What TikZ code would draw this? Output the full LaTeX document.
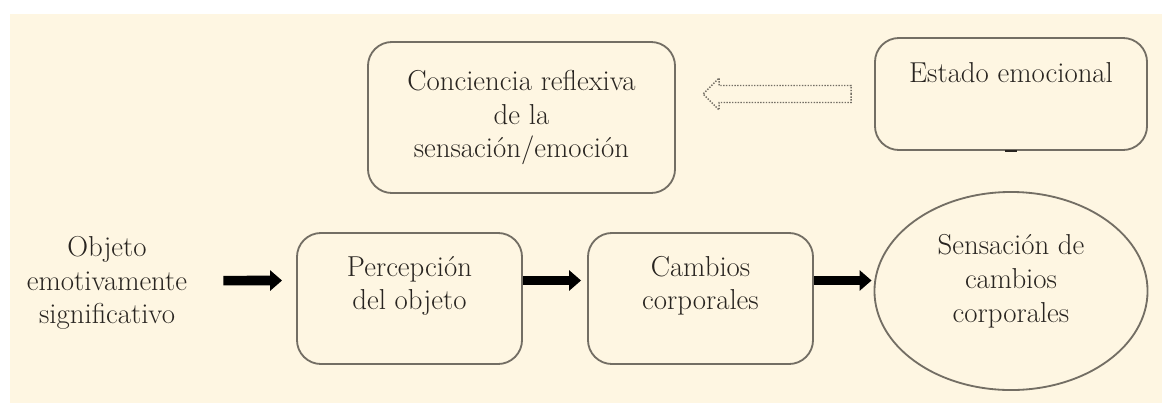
\documentclass[tikz,border=0pt]{standalone}
\usepackage{tikz}
\usetikzlibrary{arrows.meta, shapes.geometric}
\definecolor{bgcream}{RGB}{254,246,226}
\definecolor{boxgray}{RGB}{115,110,100}
\definecolor{txtgray}{RGB}{40,36,32}

\begin{document}
\begin{tikzpicture}[x=0.025cm, y=-0.025cm,
    font=\fontsize{20.5}{24}\selectfont, text=txtgray,
    stagebox/.style={draw=boxgray, line width=1.3pt, rounded corners=0.6cm, align=center, inner sep=0pt},
    fatarrow/.style={line width=0.24cm, -{Triangle[length=0.3cm, width=0.5cm]}},
    hollowarrow/.style={draw=boxgray, line width=1pt, densely dotted}]
    \useasboundingbox (0, 0) rectangle (1162, 403);
    \fill[bgcream] (10, 14) rectangle (1162, 403);
    % upper row
    \node[stagebox, minimum width=7.675cm, minimum height=3.775cm] (conc) at (521.5, 117.5) {Conciencia reflexiva\\de la\\sensación/emoción};
    \node[stagebox, minimum width=6.8cm, minimum height=2.8cm] (estado) at (1011, 94) {Estado emocional\\[6.5pt]\mbox{}};
    \draw[txtgray, line width=1.6pt] (estado.south) ++(-6, 0) -- ++(12, 0);
    \draw[hollowarrow] ([xshift=-0.575cm]estado.west) -- ++(0, -8.5) -- ++(-132, 0) -- ++(0, -7.5) -- ++(-16, 16)
        -- ++(16, 16) -- ++(0, -7.5) -- ++(132, 0) -- cycle;
    % lower row
    \node[align=center, inner sep=0pt] (obj) at (107, 283) {Objeto\\emotivamente\\significativo};
    \node[stagebox, minimum width=5.625cm, minimum height=3.275cm] (perc) at (409.5, 298.5) {Percepción\\del objeto\\[-2pt]\mbox{}};
    \node[stagebox, minimum width=5.625cm, minimum height=3.275cm] (camb) at (700.5, 298.5) {Cambios\\corporales\\[-2pt]\mbox{}};
    \node[ellipse, draw=boxgray, line width=1.3pt, align=center, inner sep=0pt, minimum width=6.825cm, minimum height=4.95cm] (sens) at (1011, 291) {Sensación de\\cambios\\corporales\\[-6pt]\mbox{}};
    \draw[fatarrow, shorten <=0.9cm, shorten >=0.35cm] ([yshift=0.06cm]obj.east) -- ([yshift=0.45cm]perc.west);
    \draw[fatarrow, shorten >=0.15cm] ([yshift=0.45cm]perc.east) -- ([yshift=0.45cm]camb.west);
    \draw[fatarrow, shorten >=0.05cm] ([yshift=0.45cm]camb.east) -- ([yshift=0.45cm]camb.east -| sens.west);
\end{tikzpicture}
\end{document}
